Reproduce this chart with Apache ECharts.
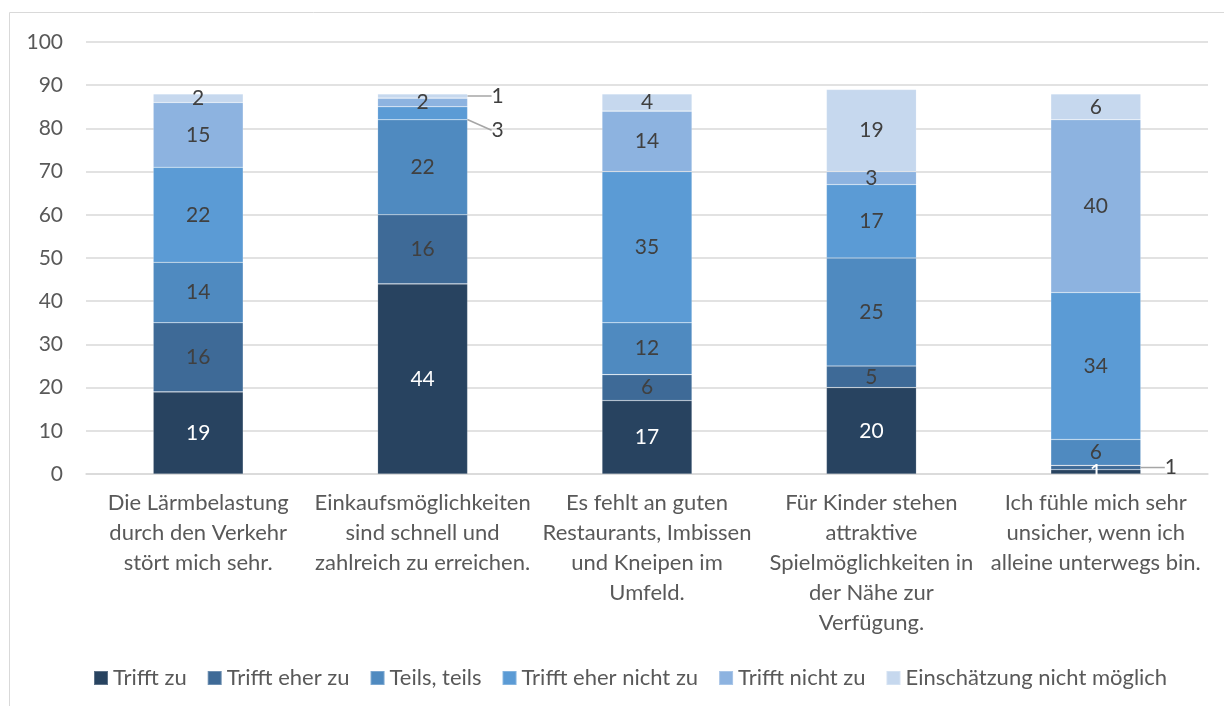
<!DOCTYPE html>
<html>
<head>
<meta charset="utf-8">
<script src="https://cdn.jsdelivr.net/npm/echarts@6/dist/echarts.min.js"></script>
<style>
  html, body { margin: 0; padding: 0; background: #fff; }
  #chart { width: 1224px; height: 706px; }
</style>
</head>
<body>
<div id="chart"></div>
<script>
// Statements (x-axis categories)
const categories = [
  'Die Lärmbelastung\ndurch den Verkehr\nstört mich sehr.',
  'Einkaufsmöglichkeiten\nsind schnell und\nzahlreich zu erreichen.',
  'Es fehlt an guten\nRestaurants, Imbissen\nund Kneipen im\nUmfeld.',
  'Für Kinder stehen\nattraktive\nSpielmöglichkeiten in\nder Nähe zur\nVerfügung.',
  'Ich fühle mich sehr\nunsicher, wenn ich\nalleine unterwegs bin.'
];

// Answer shares per statement
const trifftZu          = [19, 44, 17, 20, 1];
const trifftEherZu      = [16, 16, 6, 5, 1];
const teilsTeils        = [14, 22, 12, 25, 6];
const trifftEherNichtZu = [22, 3, 35, 17, 34];
const trifftNichtZu     = [15, 2, 14, 3, 40];
const nichtMoeglich     = [2, 1, 4, 19, 6];

const seriesNames = ['Trifft zu', 'Trifft eher zu', 'Teils, teils', 'Trifft eher nicht zu', 'Trifft nicht zu', 'Einschätzung nicht möglich'];
const seriesValues = [trifftZu, trifftEherZu, teilsTeils, trifftEherNichtZu, trifftNichtZu, nichtMoeglich];
const colors = ['#284360', '#3E6A97', '#4F8AC0', '#5B9BD5', '#8DB3E0', '#C6D8EE'];

const yTicks = { min: 0, max: 100, interval: 10 };

// Small segments whose labels sit beside the bar with a leader line: [series, category, dy]
const outsideLabels = [[1, 4, 0], [3, 1, 17], [5, 1, 0]];

const FONT = 'Lato, "Liberation Sans", sans-serif';
const FS = 22;

function isOutside(si, di) {
  return outsideLabels.find(o => o[0] === si && o[1] === di);
}

const series = seriesValues.map((vals, si) => ({
  name: seriesNames[si],
  type: 'bar',
  stack: 'total',
  barWidth: 90,
  itemStyle: { color: colors[si], borderColor: 'rgba(255,255,255,0.25)', borderWidth: 0.6 },
  label: {
    show: true,
    position: 'inside',
    fontFamily: FONT,
    fontSize: 21,
    color: si === 0 ? '#ffffff' : '#404040'
  },
  labelLine: { show: true, lineStyle: { color: '#a6a6a6', width: 1.5 } },
  labelLayout: function (p) {
    const o = isOutside(si, p.dataIndex);
    return o ? { dy: o[2] } : {};
  },
  data: vals.map((v, di) => isOutside(si, di)
    ? { value: v, label: { position: 'right', distance: 24, color: '#404040' } }
    : v)
}));

const chart = echarts.init(document.getElementById('chart'), null, { renderer: 'canvas' });
chart.setOption({
  animation: false,
  color: colors,
  graphic: [{
    type: 'rect',
    shape: { x: 9.5, y: 12.5, width: 1400, height: 900 },
    style: { fill: 'none', stroke: '#d9d9d9', lineWidth: 1 },
    silent: true,
    z: -10
  }],
  grid: { left: 86, right: 16, top: 42, bottom: 232, containLabel: false },
  legend: {
    left: 88,
    top: 662,
    itemWidth: 14,
    itemHeight: 14,
    itemGap: 20,
    icon: 'rect',
    textStyle: { fontFamily: FONT, fontSize: FS, color: '#595959' },
    data: seriesNames
  },
  xAxis: {
    type: 'category',
    data: categories,
    axisLine: { lineStyle: { color: '#d9d9d9', width: 1.5 } },
    axisTick: { show: false },
    axisLabel: {
      interval: 0,
      margin: 14,
      fontFamily: FONT,
      fontSize: FS,
      lineHeight: 30,
      color: '#595959',
      align: 'center',
      verticalAlign: 'top'
    }
  },
  yAxis: {
    type: 'value',
    min: yTicks.min,
    max: yTicks.max,
    interval: yTicks.interval,
    axisLine: { show: false },
    axisTick: { show: false },
    splitLine: { lineStyle: { color: '#d9d9d9', width: 1.5 } },
    axisLabel: { fontFamily: FONT, fontSize: 21, color: '#595959', margin: 23 }
  },
  series: series
});
</script>
</body>
</html>
